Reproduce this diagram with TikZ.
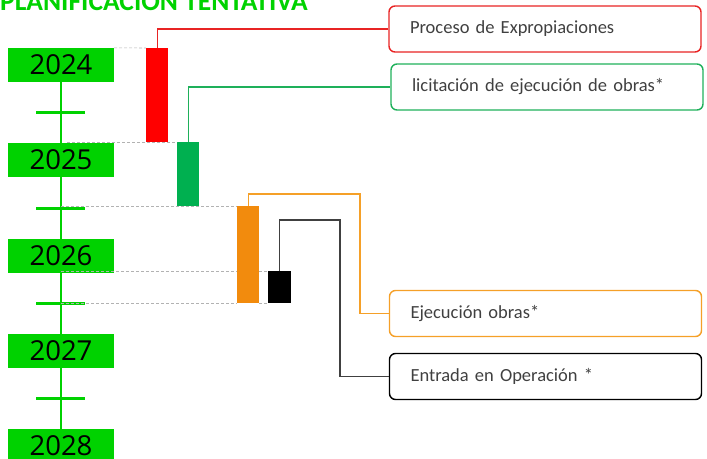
\documentclass[tikz,border=0pt]{standalone}
\usepackage{fontspec}
\setmainfont{Carlito}
\newfontfamily\yearfont{Open Sans}
\usetikzlibrary{positioning,calc}

\definecolor{yeargreen}{RGB}{0,210,0}
\definecolor{bargreen}{RGB}{0,176,80}
\definecolor{barorange}{RGB}{242,139,13}
\definecolor{boxred}{RGB}{232,36,36}
\definecolor{boxgreen}{RGB}{30,176,90}
\definecolor{boxorange}{RGB}{245,160,40}
\definecolor{labelgray}{RGB}{64,64,64}

\tikzset{
    year/.style={fill=yeargreen, minimum width=106pt, minimum height=34pt,
        inner sep=0pt, font=\yearfont\fontsize{27.5}{28}\selectfont},
    axis/.style={yeargreen, line width=2pt},
    tickmark/.style={yeargreen, line width=3pt},
    bar/.style={minimum width=22pt, inner sep=0pt, anchor=north west},
    phase/.style={draw, rounded corners=6pt, line width=1.4pt,
        minimum width=312pt, minimum height=46pt, text width=270pt,
        inner xsep=21pt, align=left, text=labelgray,
        font=\fontsize{18.5}{20}\selectfont},
    guide/.style={gray!60, densely dashed, line width=0.6pt},
    link/.style={line width=1.2pt}
}

\begin{document}
\begin{tikzpicture}[x=1pt,y=-1pt]
    \useasboundingbox (0,0) rectangle (707,458);

    \node[anchor=base west, inner sep=0pt, text=yeargreen,
        font=\bfseries\fontsize{27.5}{28}\selectfont] (title) at (0,10) {PLANIFICACION TENTATIVA};

    % years
    \node[year] (y2024) at (61,65) {2024};
    \node[year] (y2025) at (61,160) {2025};
    \node[year] (y2026) at (61,256) {2026};
    \node[year] (y2027) at (61,351) {2027};
    \node[year] (y2028) at (61,446) {2028};
    \foreach \a/\b [count=\i] in {2024/2025,2025/2026,2026/2027,2027/2028}{
        \draw[axis] (y\a.south) -- (y\b.north);
        \coordinate (t\i) at ($(y\a.south)!.5!(y\b.north)$);
        \draw[tickmark] ([xshift=-25pt]t\i) -- ([xshift=24pt]t\i);
    }

    % bars
    \node[bar, fill=red, minimum height=94pt] (rbar) at (146,48) {};
    \node[bar, fill=bargreen, minimum height=64pt] (gbar) at (177,142) {};
    \node[bar, fill=barorange, minimum height=97pt] (obar) at (237,206) {};
    \node[bar, fill=black, minimum width=23pt, minimum height=32pt] (kbar) at (268,271) {};

    \draw[guide] (y2024.north east) -- (rbar.north west);
    \draw[guide] ([xshift=6pt]y2025.north |- gbar.north) -- (gbar.north west);
    \draw[guide] (t2 |- obar.north) -- (obar.north west);
    \draw[guide] (y2026.south |- kbar.north) -- (obar.west |- kbar.north);
    \draw[guide] (obar.east |- kbar.north) -- (kbar.north west);
    \draw[guide] (t3 |- kbar.south) -- (obar.south west);
    \draw[guide] (obar.south east) -- (kbar.south west);

    % phases
    \node[phase, draw=boxred] (exprop) at (545,29) {Proceso de Expropiaciones};
    \node[phase, draw=boxgreen] (licit) at (547,87) {licitación de ejecución de obras*};
    \node[phase, draw=boxorange] (ejec) at (545.5,313.5) {Ejecución obras*};
    \node[phase, draw=black] (oper) at (545.5,376.5) {Entrada en Operación *};

    \coordinate (ejecbend) at (360,194);
    \coordinate (operbend) at (340,220);
    \draw[link, boxred] (rbar.north) |- (exprop.west);
    \draw[link, boxgreen] (gbar.north) |- (licit.west);
    \draw[link, boxorange] (obar.north) |- (ejecbend) |- (ejec.west);
    \draw[link, black!75] (kbar.north) |- (operbend) |- (oper.west);
\end{tikzpicture}
\end{document}
